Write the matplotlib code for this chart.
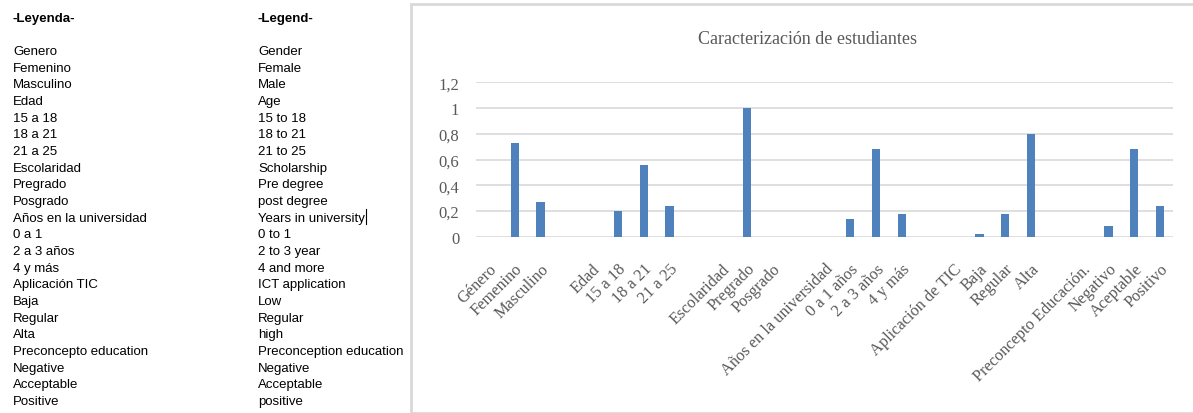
import matplotlib.pyplot as plt
from matplotlib.patches import Rectangle
from matplotlib.lines import Line2D

# left-hand legend texts
leyenda = ["Genero", "Femenino", "Masculino", "Edad", "15 a 18", "18 a 21", "21 a 25",
           "Escolaridad", "Pregrado", "Posgrado", "Años en la universidad", "0 a 1",
           "2 a 3 años", "4 y más", "Aplicación TIC", "Baja", "Regular", "Alta",
           "Preconcepto education", "Negative", "Acceptable", "Positive"]
legend_en = ["Gender", "Female", "Male", "Age", "15 to 18", "18 to 21", "21 to 25",
             "Scholarship", "Pre degree", "post degree", "Years in university", "0 to 1",
             "2 to 3 year", "4 and more", "ICT application", "Low", "Regular", "high",
             "Preconception education", "Negative", "Acceptable", "positive"]

# chart categories (blank slots between groups) and values
categories = ["Género", "Femenino", "Masculino", "",
              "Edad", "15 a 18", "18 a 21", "21 a 25", "",
              "Escolaridad", "Pregrado", "Posgrado", "",
              "Años en la universidad", "0 a 1 años", "2 a 3 años", "4 y más", "",
              "Aplicación de TIC", "Baja", "Regular", "Alta", "",
              "Preconcepto Educación.", "Negativo", "Aceptable", "Positivo"]
values = [0, 0.73, 0.27, 0,
          0, 0.20, 0.56, 0.24, 0,
          0, 1.0, 0, 0,
          0, 0.14, 0.68, 0.18, 0,
          0, 0.02, 0.18, 0.80, 0,
          0, 0.08, 0.68, 0.24]
yticks = [0, 0.2, 0.4, 0.6, 0.8, 1.0, 1.2]
ytick_labels = ["0", "0,2", "0,4", "0,6", "0,8", "1", "1,2"]

fig = plt.figure(figsize=(11.93, 4.14), dpi=100)
W, H = 1193, 414

# text columns
fig.text(13 / W, 1 - 19 / H, "-Leyenda-", fontsize=9.5, fontweight='bold',
         family='Liberation Sans', va='center')
fig.text(258 / W, 1 - 19 / H, "-Legend-", fontsize=9.5, fontweight='bold',
         family='Liberation Sans', va='center')
for i, (es, en) in enumerate(zip(leyenda, legend_en)):
    y = 1 - (52 + i * 16.67) / H
    fig.text(13 / W, y, es, fontsize=9.5, family='Liberation Sans', va='center')
    fig.text(258 / W, y, en, fontsize=9.5, family='Liberation Sans', va='center')
# text cursor after "Years in university"
fig.add_artist(Line2D([366 / W, 366 / W], [1 - 225 / H, 1 - 210 / H],
                      color='black', linewidth=0.8))

# chart box
fig.patches.append(Rectangle((411 / W, 0), 1 - 411 / W + 0.01, 1 - 5 / H,
                             transform=fig.transFigure, fill=False,
                             edgecolor='#d9d9d9', linewidth=2))

ax = fig.add_axes([476 / W, 1 - 237.7 / H, 697 / W, 154.4 / H])
x = range(len(categories))
ax.bar(x, values, width=0.32, color='#4F81BD', zorder=3)
ax.set_xlim(-0.5, len(categories) - 0.5)
ax.set_ylim(0, 1.2)
ax.set_yticks(yticks)
ax.set_yticklabels(ytick_labels, family='Liberation Serif', fontsize=12, color='#595959')
ax.set_xticks(list(x))
ax.set_xticklabels(categories, rotation=45, ha='right', rotation_mode='anchor',
                   family='Liberation Serif', fontsize=11.8, color='#595959')
ax.tick_params(length=0, axis='both')
ax.tick_params(axis='y', pad=12)
ax.tick_params(axis='x', pad=17)
ax.grid(axis='y', color='#d9d9d9', linewidth=1.2, zorder=0)
for s in ax.spines.values():
    s.set_visible(False)

fig.text(807 / W, 1 - 40 / H, "Caracterización de estudiantes", ha='center', va='center',
         family='Liberation Serif', fontsize=13, color='#595959')

fig.savefig("out.png", dpi=100)
